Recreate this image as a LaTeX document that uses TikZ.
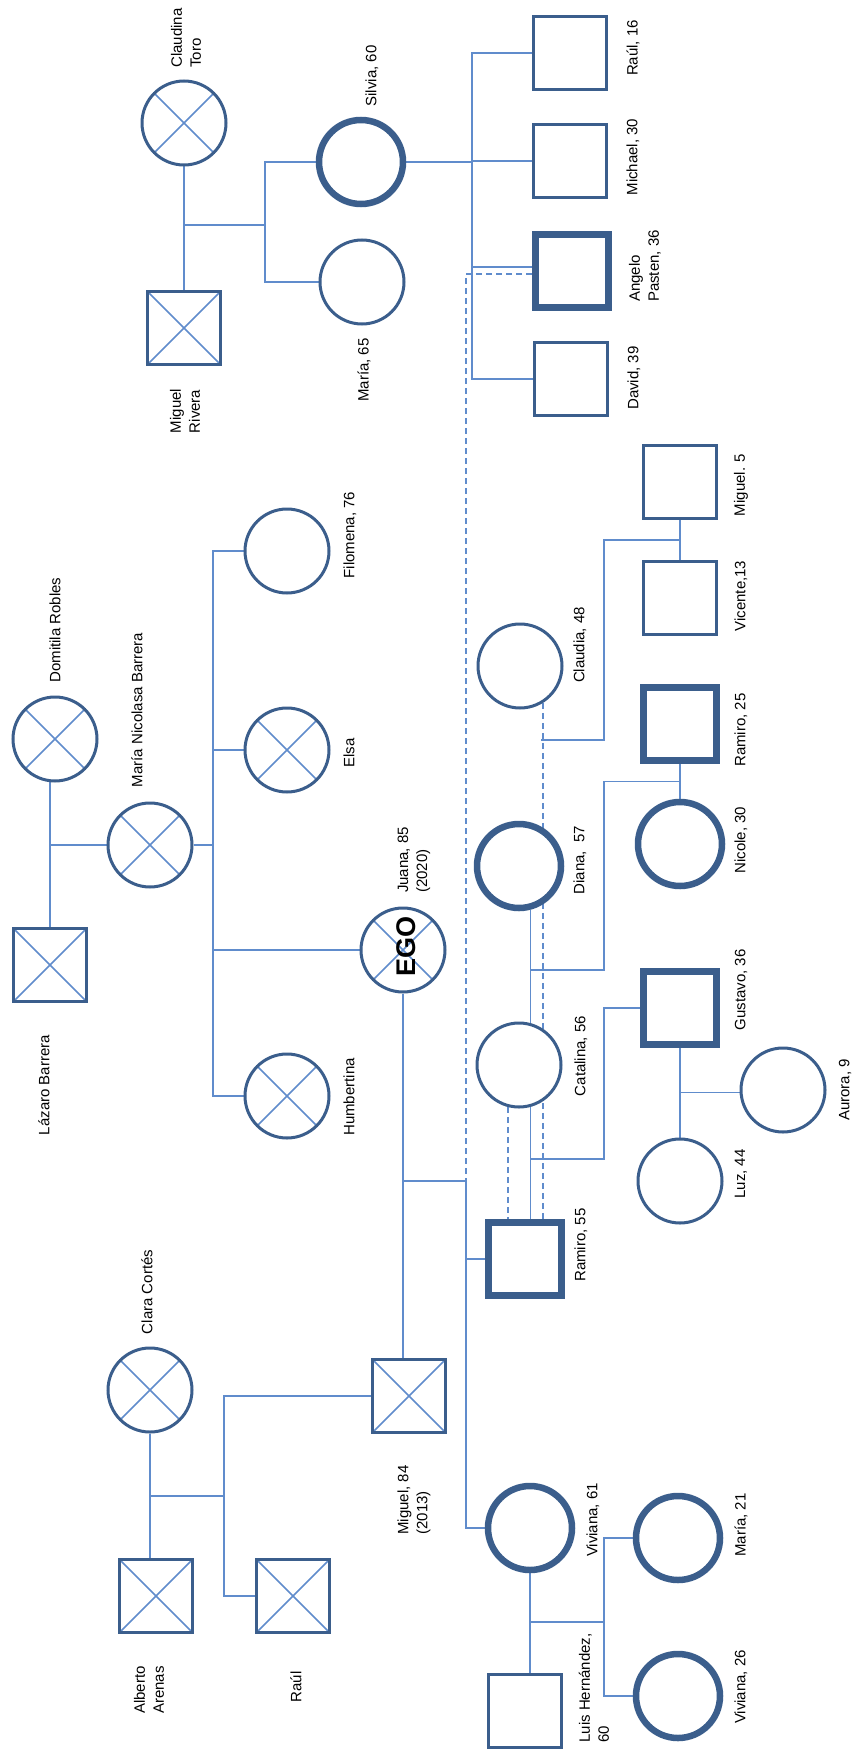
\documentclass[tikz,border=0pt]{standalone}
\usepackage{fontspec}
\setmainfont{Liberation Sans}
\usepackage{tikz}
\usetikzlibrary{calc}
\usetikzlibrary{backgrounds}

\definecolor{shapeblue}{RGB}{59,94,140}
\definecolor{lineblue}{RGB}{96,140,204}

\tikzset{
  woman/.style={circle,draw=shapeblue,line width=3pt,fill=white,minimum size=84pt,inner sep=0pt},
  man/.style={rectangle,draw=shapeblue,line width=3pt,fill=white,minimum size=73pt,inner sep=0pt},
  key/.style={line width=6.5pt},
  dead/.style={path picture={
      \draw[lineblue,line width=1.5pt] (path picture bounding box.north west)--(path picture bounding box.south east)
        (path picture bounding box.north east)--(path picture bounding box.south west);}},
  rel/.style={draw=lineblue,line width=1.5pt},
  dashrel/.style={rel,dash pattern=on 6pt off 4pt},
  lbl/.style={rotate=90,align=left,inner sep=0pt,font=\fontsize{15}{19}\selectfont}
}

\begin{document}
\begin{tikzpicture}[x=1pt,y=-1pt]
    \useasboundingbox (0,0) rectangle (856,1752);

    \node[woman,dead] (claudina) at (184,123) {};
    \node[man,dead] (miguelR) at (184,328) {};
    \node[woman,key] (silvia) at (361,162) {};
    \node[woman] (mariaA) at (362,282) {};
    \node[man] (raulA) at (570,53) {};
    \node[man] (michael) at (570,161) {};
    \node[man,key] (angelo) at (572,271) {};
    \node[man] (david) at (571,379) {};

    \node[woman,dead] (domitila) at (55,739) {};
    \node[woman,dead] (nicolasa) at (150,845) {};
    \node[man,dead] (lazaro) at (50,965) {};
    \node[woman] (filomena) at (287,551) {};
    \node[woman,dead] (elsa) at (287,750) {};
    \node[woman,dead] (juana) at (403,950) {};
    \node[woman,dead] (humbertina) at (287,1096) {};

    \node[woman] (claudia) at (520,666) {};
    \node[woman,key] (diana) at (519,866) {};
    \node[woman] (catalina) at (519,1065) {};
    \node[man,key] (ramiroA) at (525,1259) {};
    \node[man] (miguel5) at (680,482) {};
    \node[man] (vicente) at (680,598) {};
    \node[man,key] (ramiroB) at (680,724) {};
    \node[woman,key] (nicole) at (680,844) {};
    \node[man,key] (gustavo) at (680,1008) {};
    \node[woman] (aurora) at (783,1090) {};
    \node[woman] (luz) at (680,1181) {};

    \node[woman,dead] (clara) at (150,1390) {};
    \node[man,dead] (miguelP) at (409,1396) {};
    \node[man,dead] (alberto) at (156,1596) {};
    \node[man,dead] (raulB) at (293,1596) {};
    \node[woman,key] (viviana) at (530,1528) {};
    \node[woman,key] (mariaB) at (678,1538) {};
    \node[woman,key] (vivianaB) at (678,1696) {};
    \node[man] (luis) at (525,1711) {};

    \coordinate (cm) at (184,225);
    \coordinate (sibS) at (265,225);
    \coordinate (sibA) at (472,162);
    \coordinate (sibN) at (213,845);
    \coordinate (sibJ) at (466,1181);
    \coordinate (sibC) at (224,1496);
    \coordinate (sibV) at (604,1622);
    \coordinate (bx) at (604,0);
    \coordinate (cr) at (541,740);
    \coordinate (dr) at (530,970);
    \coordinate (cc) at (530,1159);
    \coordinate (mv) at ($(miguel5.south)!0.5!(vicente.north)$);
    \coordinate (rn) at ($(ramiroB.south)!0.5!(nicole.north)$);
    \coordinate (gl) at ($(gustavo.south)!0.5!(luz.north)$);

    \begin{scope}[on background layer]
        \draw[rel] (claudina) -- (miguelR);
        \draw[rel] (cm) -- (sibS);
        \draw[rel] (silvia) -| (sibS);
        \draw[rel] (mariaA) -| (sibS);
        \draw[rel] (silvia) -- (sibA);
        \foreach \n in {raulA,michael,david}
            \draw[rel] (\n) -| (sibA);
        \draw[rel] ([yshift=4pt]angelo.center) -| (sibA);
        \draw[dashrel] ([yshift=-3pt]angelo.center) -| (sibJ);

        \draw[rel] (lazaro) -- (lazaro |- domitila);
        \draw[rel] (nicolasa) -- (nicolasa -| lazaro);
        \draw[rel] (nicolasa) -- (sibN);
        \foreach \n in {filomena,elsa,juana,humbertina}
            \draw[rel] (\n) -| (sibN);

        \draw[rel] (juana) -- (juana |- miguelP);
        \draw[rel] (juana |- sibJ) -- (sibJ);
        \draw[rel] (ramiroA) -| (sibJ);
        \draw[rel] (viviana) -| (sibJ);

        \draw[rel] (clara) -- (clara |- alberto);
        \draw[rel] (clara |- sibC) -- (sibC);
        \draw[rel] (miguelP) -| (sibC);
        \draw[rel] (raulB) -| (sibC);

        \draw[rel] (diana.-75) -- (diana.-75 |- ramiroA);
        \draw[dashrel] (catalina.-105) -- (catalina.-105 |- ramiroA);
        \draw[dashrel] (claudia.-58) -- (claudia.-58 |- ramiroA);
        \draw[rel] (cr) -| (bx |- mv) -- (mv);
        \draw[rel] (dr) -| (bx |- rn) -- (rn);
        \draw[rel] (cc) -| (bx |- gustavo) -- (gustavo);
        \draw[rel] (miguel5) -- (vicente);
        \draw[rel] (ramiroB) -- (nicole);
        \draw[rel] (gustavo) -- (luz);
        \draw[rel] (gl) -- (gl -| aurora);

        \draw[rel] (viviana) -- (viviana |- luis);
        \draw[rel] (viviana |- sibV) -- (sibV);
        \draw[rel] (mariaB) -| (sibV);
        \draw[rel] (vivianaB) -| (sibV);
    \end{scope}

    \node[lbl] (tClaudina) at (186,38) {Claudina\\Toro};
    \node[lbl] (tMiguelR) at (185,411) {Miguel\\Rivera};
    \node[lbl] (tSilvia) at (372,76) {Silvia, 60};
    \node[lbl] (tMariaA) at (364,370) {María, 65};
    \node[lbl] (tRaulA) at (633,48) {Raúl, 16};
    \node[lbl] (tMichael) at (633,157) {Michael, 30};
    \node[lbl] (tAngelo) at (645,266) {Angelo\\Pasten, 36};
    \node[lbl] (tDavid) at (634,378) {David, 39};

    \node[lbl] (tDomitila) at (55,630) {Domitila Robles};
    \node[lbl] (tNicolasa) at (137,710) {María Nicolasa Barrera};
    \node[lbl] (tLazaro) at (44,1085) {Lázaro Barrera};
    \node[lbl] (tFilomena) at (350,535) {Filomena, 76};
    \node[lbl] (tElsa) at (349,753) {Elsa};
    \node[lbl] (tHumbertina) at (349,1097) {Humbertina};
    \node[lbl] (tJuana) at (414,860) {Juana, 85\\(2020)};
    \node[lbl,font=\bfseries\fontsize{27}{27}\selectfont] (ego) at (406,946) {EGO};

    \node[lbl] (tClaudia) at (580,645) {Claudia, 48};
    \node[lbl] (tDiana) at (580,860) {Diana,\ \ 57};
    \node[lbl] (tCatalina) at (581,1056) {Catalina, 56};
    \node[lbl] (tRamiroA) at (581,1245) {Ramiro, 55};
    \node[lbl] (tMiguel5) at (741,485) {Miguel. 5};
    \node[lbl] (tVicente) at (741,596) {Vicente,13};
    \node[lbl] (tRamiroB) at (741,730) {Ramiro, 25};
    \node[lbl] (tNicole) at (741,840) {Nicole, 30};
    \node[lbl] (tGustavo) at (741,990) {Gustavo, 36};
    \node[lbl] (tAurora) at (845,1090) {Aurora, 9};
    \node[lbl] (tLuz) at (741,1174) {Luz, 44};

    \node[lbl] (tClara) at (147,1292) {Clara Cortés};
    \node[lbl] (tMiguelP) at (414,1500) {Miguel, 84\\(2013)};
    \node[lbl] (tViviana) at (593,1520) {Viviana, 61};
    \node[lbl] (tMariaB) at (741,1525) {María, 21};
    \node[lbl] (tVivianaB) at (741,1687) {Viviana, 26};
    \node[lbl] (tLuis) at (594,1688) {Luis Hernández,\\60};
    \node[lbl] (tAlberto) at (149,1690) {Alberto\\Arenas};
    \node[lbl] (tRaulB) at (296,1687) {Raúl};
\end{tikzpicture}
\end{document}
